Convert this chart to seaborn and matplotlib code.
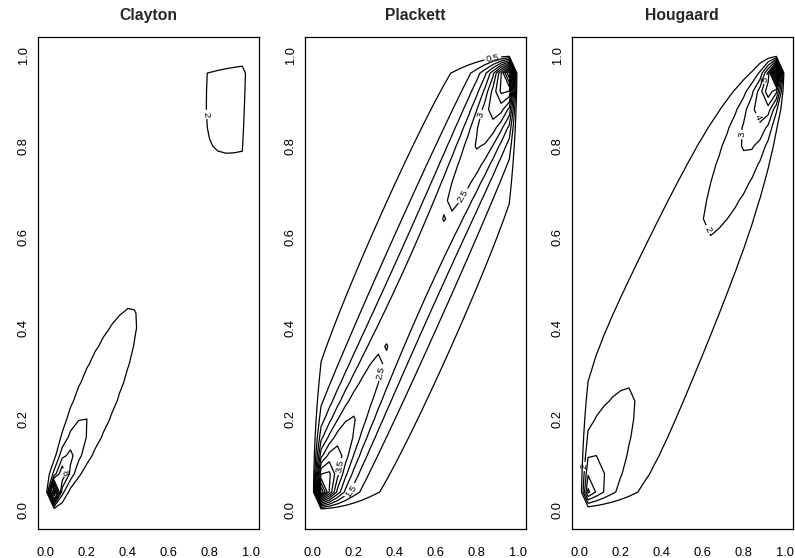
import numpy as np
import matplotlib
matplotlib.use("Agg")
import matplotlib.pyplot as plt
import seaborn as sns

# Copula parameters (all three families at Kendall's tau = 0.6)
clayton_theta = 3.0
plackett_theta = 21.3
hougaard_theta = 2.5

# Evaluation grid on the unit square
grid_step = 0.04

titles = ["Clayton", "Plackett", "Hougaard"]
clayton_levels = [2, 4, 6, 8, 10, 12, 14, 16, 18]
plackett_levels = [0.5, 1, 1.5, 2, 2.5, 3, 3.5, 4, 4.5, 5, 5.5, 6, 6.5]
hougaard_levels = [1, 2, 3, 4, 5, 6, 7, 8, 9, 10, 11, 12]
tick_values = [0.0, 0.2, 0.4, 0.6, 0.8, 1.0]
tick_labels = ["0.0", "0.2", "0.4", "0.6", "0.8", "1.0"]

# Which contour levels carry a label, and where along the line it sits
clayton_label_levels = [2, 8, 14]
clayton_label_spots = [(0.778, 0.869), (0.085, 0.081), (0.01, 0.03)]
plackett_label_levels = [0.5, 3, 2.5, 2.5, 3.5, 1.5]
plackett_label_spots = [(0.88, 0.99), (0.824, 0.869), (0.71, 0.697),
                        (0.312, 0.305), (0.133, 0.096), (0.174, 0.045)]
hougaard_label_levels = [5, 4, 3, 2, 2]
hougaard_label_spots = [(0.908, 0.946), (0.862, 0.861), (0.789, 0.825),
                        (0.623, 0.616), (0.025, 0.096)]


def clayton_density(u, v, th):
    return (1 + th) * (u * v) ** (-1 - th) * (u ** -th + v ** -th - 1) ** (-2 - 1 / th)


def plackett_density(u, v, th):
    a = th - 1
    num = th * (1 + a * (u + v - 2 * u * v))
    den = ((1 + a * (u + v)) ** 2 - 4 * th * a * u * v) ** 1.5
    return num / den


def hougaard_density(u, v, th):
    x = -np.log(u)
    y = -np.log(v)
    s = x ** th + y ** th
    a = s ** (1 / th)
    return np.exp(-a) / (u * v) * (x * y) ** (th - 1) * s ** (1 / th - 2) * (a + th - 1)


def on_grid(density, th):
    g = np.round(np.arange(0, 1 + grid_step / 2, grid_step), 10)
    U, V = np.meshgrid(g, g)
    Z = np.zeros_like(U)
    inside = (U > 0) & (U < 1) & (V > 0) & (V < 1)
    Z[inside] = density(U[inside], V[inside], th)
    return g, Z


sns.set_style("white")
plt.rcParams["font.family"] = ["Liberation Sans", "DejaVu Sans"]
plt.rcParams["axes.edgecolor"] = "black"
plt.rcParams["axes.linewidth"] = 0.9

fig = plt.figure(figsize=(7.95, 5.58), dpi=100)

panels = [
    (clayton_density, clayton_theta, clayton_levels, clayton_label_levels, clayton_label_spots),
    (plackett_density, plackett_theta, plackett_levels, plackett_label_levels, plackett_label_spots),
    (hougaard_density, hougaard_theta, hougaard_levels, hougaard_label_levels, hougaard_label_spots),
]
lefts = [37.7 / 795, 304.7 / 795, 571.7 / 795]
width = 221 / 795
bottom = (558 - 528.5) / 558
height = 491.8 / 558
line_kw = dict(colors="black", linewidths=0.9)

for left, title, (dens, th, levels, lab_levels, lab_spots) in zip(lefts, titles, panels):
    ax = fig.add_axes([left, bottom, width, height])
    ax.set_xlim(-0.04, 1.04)
    ax.set_ylim(-0.04, 1.04)
    g, Z = on_grid(dens, th)

    plain = [lv for lv in levels if lv not in lab_levels]
    ax.contour(g, g, Z, levels=plain, **line_kw)
    for lvl in sorted(set(lab_levels)):
        spots = [s for l, s in zip(lab_levels, lab_spots) if l == lvl]
        cs = ax.contour(g, g, Z, levels=[lvl], **line_kw)
        cs.clabel(manual=spots, inline=True, fmt="%g", fontsize=6.8,
                  inline_spacing=2)

    ax.set_xticks(tick_values)
    ax.set_xticklabels(tick_labels)
    ax.set_yticks(tick_values)
    ax.set_yticklabels(tick_labels, rotation=90, va="center")
    ax.tick_params(axis="both", direction="out", length=5.8, width=0.8,
                   labelsize=9.3, colors="black")
    ax.tick_params(axis="x", pad=7.2)
    ax.tick_params(axis="y", pad=0.0)
    ax.set_title(title, fontsize=11.3, fontweight="bold", pad=12)
    for sp in ax.spines.values():
        sp.set_visible(True)
        sp.set_color("black")

fig.savefig("out.png", dpi=100, facecolor="white")
